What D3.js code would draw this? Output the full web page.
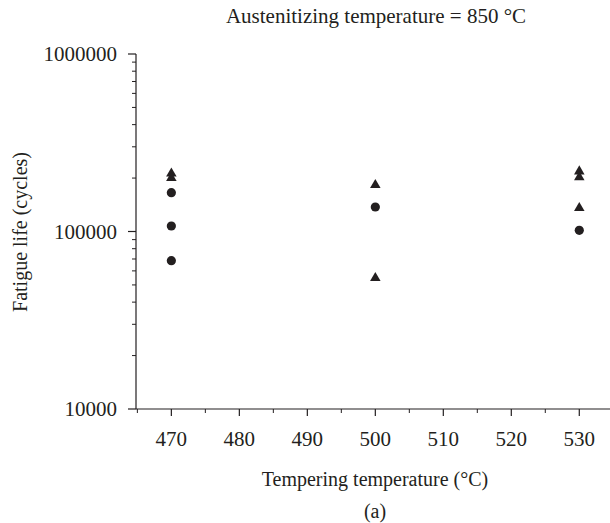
<!DOCTYPE html>
<html>
<head>
<meta charset="utf-8">
<script src="https://cdn.jsdelivr.net/npm/d3@7"></script>
</head>
<body style="margin:0">
<script>
// tempering temperature (°C) per point
const circleTemps = [470, 470, 470, 500, 530];
const circleLife = [165500, 107400, 68500, 137400, 101600];
const triangleTemps = [470, 470, 500, 500, 530, 530, 530];
const triangleLife = [212000, 200000, 182800, 54700, 218000, 202000, 135600];
const xTicks = [470, 480, 490, 500, 510, 520, 530];
const yTicks = [10000, 100000, 1000000];

const width = 610, height = 523;
const ink = "#231f20";

const svg = d3.select("body").append("svg")
    .attr("width", width)
    .attr("height", height);

const x = d3.scaleLinear().domain([464.8, 535.4]).range([136, 616]);
const y = d3.scaleLog().domain([10000, 1000000]).range([409, 54]);

function label(sel, size) {
    return sel.style("font-family", "Tinos, 'Liberation Serif', serif")
        .attr("font-size", size)
        .attr("fill", ink);
}

// y axis
const yAxis = svg.append("g").attr("transform", "translate(136,0)");
yAxis.append("line")
    .attr("y1", y(1000000)).attr("y2", y(10000))
    .attr("stroke", ink).attr("stroke-width", 1.2);
const minorY = [];
[10000, 100000].forEach(function (d) {
    for (let k = 2; k <= 9; k++) minorY.push(d * k);
});
yAxis.selectAll("line.minor").data(minorY).enter().append("line")
    .attr("class", "minor")
    .attr("x1", -4).attr("x2", 0)
    .attr("y1", d => y(d)).attr("y2", d => y(d))
    .attr("stroke", ink).attr("stroke-width", 1);
yAxis.selectAll("line.major").data(yTicks).enter().append("line")
    .attr("class", "major")
    .attr("x1", -8).attr("x2", 0)
    .attr("y1", d => y(d)).attr("y2", d => y(d))
    .attr("stroke", ink).attr("stroke-width", 1.2);
label(yAxis.selectAll("text").data(yTicks).enter().append("text"), 21)
    .attr("x", -19)
    .attr("y", d => y(d) + 7)
    .attr("text-anchor", "end")
    .text(d => d);

// x axis
const xAxis = svg.append("g").attr("transform", "translate(0,409)");
xAxis.append("line")
    .attr("x1", 136).attr("x2", width)
    .attr("stroke", ink).attr("stroke-width", 1.2);
const minorX = d3.range(465, 540, 10);
xAxis.selectAll("line.minor").data(minorX).enter().append("line")
    .attr("class", "minor")
    .attr("x1", d => x(d)).attr("x2", d => x(d))
    .attr("y1", 0).attr("y2", 4)
    .attr("stroke", ink).attr("stroke-width", 1);
xAxis.selectAll("line.major").data(xTicks).enter().append("line")
    .attr("class", "major")
    .attr("x1", d => x(d)).attr("x2", d => x(d))
    .attr("y1", 0).attr("y2", 7)
    .attr("stroke", ink).attr("stroke-width", 1.2);
label(xAxis.selectAll("text").data(xTicks).enter().append("text"), 21)
    .attr("x", d => x(d))
    .attr("y", 37)
    .attr("text-anchor", "middle")
    .text(d => d);

// labels
label(svg.append("text"), 21)
    .attr("x", 376).attr("y", 23)
    .attr("text-anchor", "middle")
    .text("Austenitizing temperature = 850 °C");
label(svg.append("text"), 20)
    .attr("x", 375).attr("y", 486)
    .attr("text-anchor", "middle")
    .text("Tempering temperature (°C)");
label(svg.append("text"), 20)
    .attr("x", 375).attr("y", 518)
    .attr("text-anchor", "middle")
    .text("(a)");
label(svg.append("text"), 20)
    .attr("transform", "translate(27,232) rotate(-90)")
    .attr("text-anchor", "middle")
    .text("Fatigue life (cycles)");

// points
const circles = circleTemps.map((t, i) => ({ t: t, v: circleLife[i] }));
const triangles = triangleTemps.map((t, i) => ({ t: t, v: triangleLife[i] }));

svg.selectAll("circle.pt").data(circles).enter().append("circle")
    .attr("class", "pt")
    .attr("cx", d => x(d.t))
    .attr("cy", d => y(d.v))
    .attr("r", 4.6)
    .attr("fill", ink);

svg.selectAll("path.tri").data(triangles).enter().append("path")
    .attr("class", "tri")
    .attr("transform", d => "translate(" + x(d.t) + "," + y(d.v) + ")")
    .attr("d", d3.symbol().type(d3.symbolTriangle).size(48))
    .attr("fill", ink);
</script>
</body>
</html>
